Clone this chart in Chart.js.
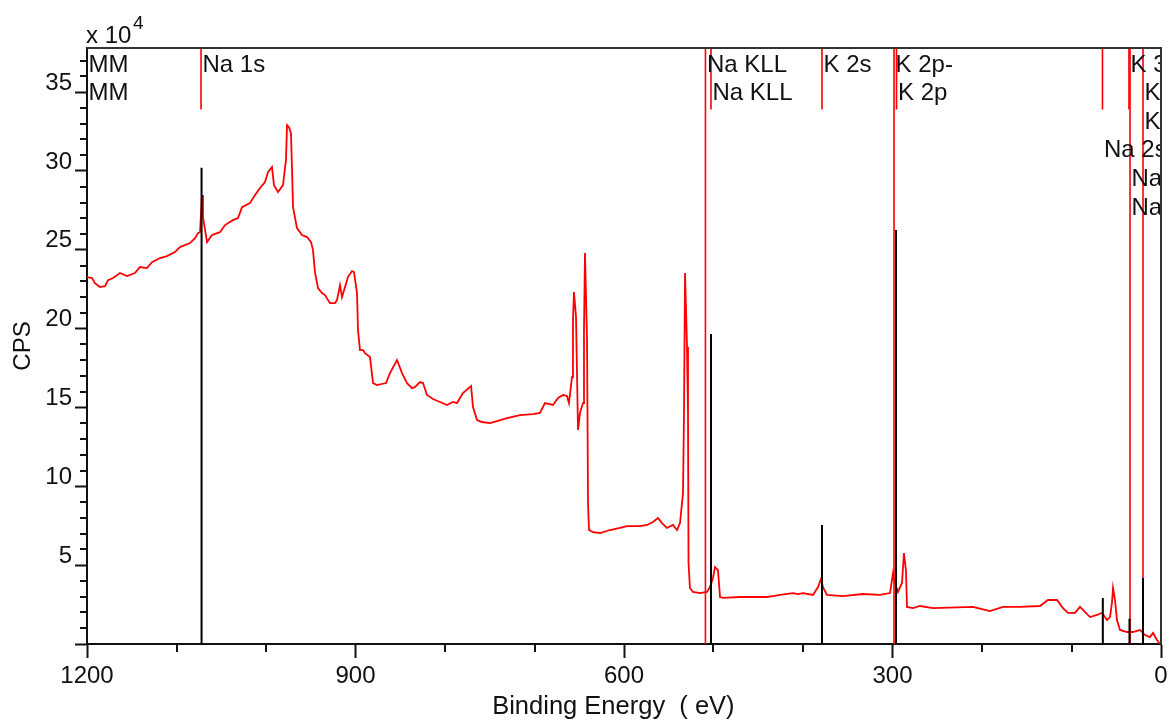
<!DOCTYPE html>
<html><head><meta charset="utf-8">
<script src="https://cdn.jsdelivr.net/npm/chart.js@4.4.1/dist/chart.umd.min.js"></script>
<style>html,body{margin:0;padding:0;background:#fff}canvas{display:block}</style>
</head><body>
<canvas id="c" width="1172" height="727"></canvas>
<script>
// Binding energy (eV) and counts per second (x 10^4)
const bindingEnergy = [1200,1194.4,1191.1,1185.5,1179.9,1176.5,1170.9,1163.1,1155.3,1146.4,
1140.8,1133.0,1127.4,1118.4,1110.6,1101.7,1096.1,1084.9,1079.3,1076.0,
1073.7,1071.5,1070.4,1065.9,1060.3,1051.4,1045.8,1036.9,1031.3,1026.8,
1017.9,1012.3,1006.7,1001.1,997.8,993.3,991.1,986.6,981.0,977.7,
976.5,974.3,972.1,971.0,969.8,965.4,959.8,954.2,949.7,947.5,
945.3,941.9,937.4,934.1,928.5,922.9,920.7,917.3,915.1,911.7,
908.4,903.9,901.7,898.3,897.2,895.0,891.6,889.4,883.8,880.4,
876.0,865.9,861.5,853.6,848.0,842.5,836.9,833.5,827.9,824.6,
820.1,813.4,805.6,797.8,791.1,786.6,779.9,770.9,768.7,764.2,
758.7,749.7,741.9,730.7,716.2,701.7,693.9,688.3,679.3,673.7,
668.2,663.7,661.5,658.1,657.0,655.9,653.6,651.4,649.2,645.8,
644.7,643.6,641.3,640.2,639.1,634.6,626.8,615.6,604.5,596.6,
582.1,574.3,567.6,562.0,557.5,552.0,545.3,540.8,537.4,534.1,
533.0,531.8,529.6,528.5,527.9,526.3,522.9,515.1,507.3,503.9,
500.6,498.3,495.0,492.7,489.4,470.4,440.2,433.5,425.7,411.2,
405.6,400.0,388.8,383.2,379.9,377.7,373.2,355.3,333.0,314.0,
302.8,299.4,297.2,293.9,289.4,287.2,285.0,283.8,277.1,269.3,
254.7,210.1,191.1,176.5,157.5,135.2,126.3,116.2,109.5,103.9,
96.1,90.5,87.2,79.3,71.5,65.9,60.3,57.0,54.7,53.6,
51.4,49.2,45.8,38.0,31.3,23.5,17.9,12.3,8.9,4.5,1.1];
const cps = [23.27,23.21,22.89,22.64,22.70,23.08,23.21,23.53,23.34,23.53,
23.91,23.84,24.22,24.48,24.60,24.86,25.17,25.43,25.74,26.06,
26.12,28.47,27.08,25.49,25.94,26.12,26.57,26.88,27.01,27.71,
27.96,28.47,28.92,29.30,29.93,30.25,29.11,28.66,29.11,30.69,
32.91,32.78,32.40,30.25,27.71,26.38,25.94,25.81,25.49,24.98,
23.59,22.57,22.26,22.13,21.62,21.62,21.81,22.76,22.00,22.64,
23.27,23.65,23.59,22.26,19.91,18.64,18.64,18.45,18.20,16.55,
16.42,16.55,17.18,18.01,17.18,16.55,16.23,16.30,16.61,16.55,
15.79,15.54,15.35,15.16,15.35,15.28,15.92,16.36,15.03,14.20,
14.08,14.01,14.14,14.33,14.52,14.58,14.65,15.28,15.16,15.60,
15.79,15.73,15.28,16.93,20.55,22.32,20.74,13.57,14.65,15.28,
19.91,24.79,19.28,8.94,7.23,7.10,7.04,7.23,7.36,7.48,
7.48,7.55,7.74,7.99,7.67,7.36,7.55,7.23,7.67,9.57,
14.39,23.53,18.83,14.65,5.14,3.55,3.30,3.23,3.30,3.61,
4.19,4.88,4.69,2.98,2.92,2.98,2.98,3.04,3.11,3.23,
3.17,3.23,3.11,3.61,4.12,3.61,3.11,3.04,3.17,3.11,
3.23,4.50,3.87,3.30,3.87,5.77,4.69,2.35,2.28,2.41,
2.28,2.35,2.09,2.35,2.35,2.41,2.79,2.79,2.28,1.97,
1.97,2.35,2.16,1.71,1.84,1.97,1.52,1.71,2.66,3.55,
2.79,1.52,0.89,0.76,0.76,0.89,0.57,0.44,0.70,0.25,0.0];

// Peak-position markers (red) and component lines (black)
const markerEnergy = [1072.6, 509.0, 502.8, 378.8, 298.3, 295.5, 65.4, 35.8, 34.6, 20.1];
const markerBottom = [33.9, 0, 33.9, 33.9, 0, 33.9, 33.9, 33.9, 0, 0];
const componentEnergy = [1072.0, 502.8, 378.8, 296.1, 65.0, 35.2, 20.1];
const componentHeight = [30.2, 19.66, 7.55, 26.25, 2.92, 1.6, 4.19];

// Peak labels
const labelText = ['MM','MM','Na 1s','Na KLL','Na KLL','K 2s','K 2p-','K 2p','K 3s','K 3p','K 3p','Na 2s','Na 2p','Na 2p'];
const labelEnergy = [1200,1200,1072.6,509.0,502.8,378.8,298.3,295.5,35.8,20.1,20.1,65.4,34.6,34.6];
const labelRow = [0,1,0,0,1,0,0,1,0,1,2,3,4,5];

// Axis ranges and ticks
const xMin = 0, xMax = 1200, xMajorStep = 300, xMinorStep = 100;
const yMin = 0, yMax = 37.8, yMajorStep = 5, yMinorStep = 1;

const FONT = '"Liberation Sans", Arial, Helvetica, sans-serif';
const TOP = yMax;

const datasets = [];
datasets.push({
  data: bindingEnergy.map((e, i) => ({x: e, y: cps[i]})),
  borderColor: '#ff0000', borderWidth: 1.8, pointRadius: 0, tension: 0, order: 3
});
markerEnergy.forEach((e, i) => datasets.push({
  data: [{x: e, y: TOP}, {x: e, y: markerBottom[i]}],
  borderColor: '#ff0000', borderWidth: 1.6, pointRadius: 0, order: 2
}));
componentEnergy.forEach((e, i) => datasets.push({
  data: [{x: e, y: componentHeight[i]}, {x: e, y: 0}],
  borderColor: '#000000', borderWidth: 2, pointRadius: 0, order: 1
}));

const overlay = {
  id: 'overlay',
  afterDatasetsDraw(chart) {
    const {ctx, chartArea: a, scales: {x}} = chart;
    ctx.save();
    ctx.beginPath();
    ctx.rect(a.left + 1, a.top, a.right - a.left - 1, a.bottom - a.top);
    ctx.clip();
    ctx.font = '24px ' + FONT;
    ctx.fillStyle = '#111';
    ctx.textAlign = 'left';
    ctx.textBaseline = 'alphabetic';
    labelText.forEach((t, i) => {
      const px = x.getPixelForValue(labelEnergy[i]) + 1.5;
      const py = a.top + 23.5 + labelRow[i] * 28.6;
      ctx.fillText(t, px, py);
    });
    ctx.restore();
  },
  afterDraw(chart) {
    const {ctx, chartArea: a, scales: {x, y}} = chart;
    ctx.save();
    ctx.strokeStyle = '#111';
    ctx.lineWidth = 2;
    // minor ticks
    ctx.beginPath();
    for (let v = xMin + xMinorStep; v < xMax; v += xMinorStep) {
      if (v % xMajorStep === 0) continue;
      const px = Math.round(x.getPixelForValue(v));
      ctx.moveTo(px, a.bottom); ctx.lineTo(px, a.bottom + 8);
    }
    for (let v = yMin + yMinorStep; v <= yMax; v += yMinorStep) {
      if (v % yMajorStep === 0) continue;
      const py = Math.round(y.getPixelForValue(v));
      ctx.moveTo(a.left, py); ctx.lineTo(a.left - 7, py);
    }
    ctx.stroke();
    // frame top & right
    ctx.strokeStyle = '#333';
    ctx.beginPath();
    ctx.moveTo(a.left, a.top); ctx.lineTo(a.right, a.top); ctx.lineTo(a.right, a.bottom);
    ctx.stroke();
    // multiplier
    ctx.fillStyle = '#111';
    ctx.textAlign = 'left';
    ctx.textBaseline = 'alphabetic';
    ctx.font = '24px ' + FONT;
    ctx.fillText('x 10', a.left - 1, a.top - 5);
    ctx.font = '19px ' + FONT;
    ctx.fillText('4', a.left + 46, a.top - 19);
    ctx.restore();
  }
};

new Chart(document.getElementById('c'), {
  type: 'line',
  data: {datasets},
  options: {
    responsive: false,
    animation: false,
    devicePixelRatio: 1,
    layout: {padding: {top: 48, right: 11, left: 0, bottom: 0}},
    plugins: {legend: {display: false}, tooltip: {enabled: false}},
    elements: {line: {borderCapStyle: 'butt'}},
    scales: {
      x: {
        type: 'linear', reverse: true, min: xMin, max: xMax,
        afterFit(s) { s.height = 83; },
        border: {display: true, color: '#111', width: 2},
        grid: {drawOnChartArea: false, tickLength: 14, tickWidth: 2, tickColor: '#111'},
        ticks: {stepSize: xMajorStep, autoSkip: false, maxRotation: 0, padding: 4,
                color: '#111', font: {family: FONT, size: 24},
                callback: v => String(v)},
        title: {display: true, text: 'Binding Energy  ( eV)   ', color: '#111',
                font: {family: FONT, size: 25.5}, padding: {top: 0, bottom: 5}}
      },
      y: {
        type: 'linear', min: yMin, max: yMax,
        afterFit(s) { s.width = 87; },
        border: {display: true, color: '#111', width: 2},
        grid: {drawOnChartArea: false, tickLength: 12, tickWidth: 2, tickColor: '#111'},
        ticks: {stepSize: yMajorStep, includeBounds: false, padding: 3, labelOffset: -9,
                color: '#111', font: {family: FONT, size: 24},
                callback: v => v === 0 ? '' : String(v)},
        title: {display: true, text: 'CPS', color: '#111',
                font: {family: FONT, size: 24}, padding: {top: 9, bottom: 0}}
      }
    }
  },
  plugins: [overlay]
});
</script>
</body></html>
